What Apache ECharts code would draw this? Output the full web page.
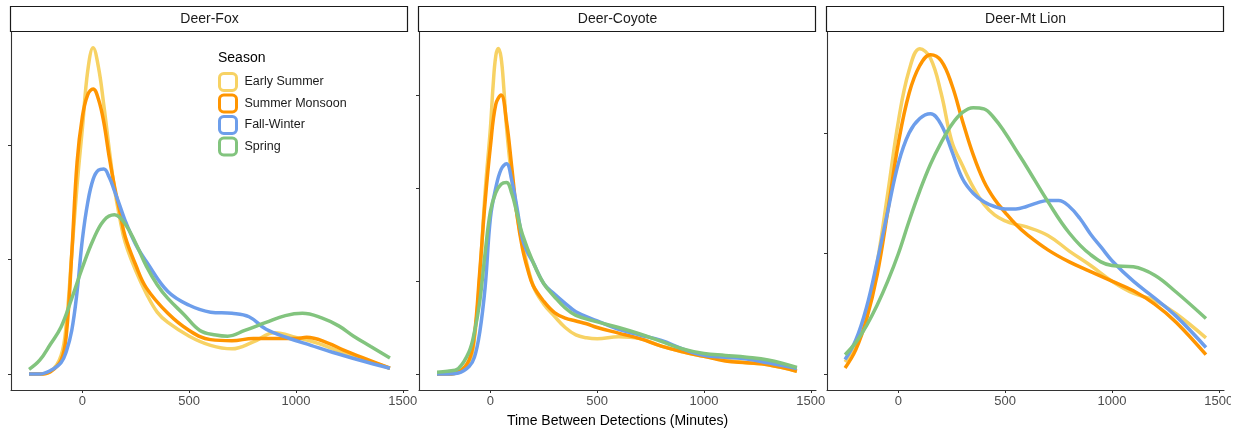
<!DOCTYPE html>
<html>
<head>
<meta charset="utf-8">
<script src="https://cdn.jsdelivr.net/npm/echarts@6/dist/echarts.min.js"></script>
<style>
html,body{margin:0;padding:0;background:#fff;}
#chart{width:1231px;height:433px;}
</style>
</head>
<body>
<div id="chart"></div>
<script>
// ---------- data (x = minutes, y = density in relative units) ----------
const panels = ['Deer-Fox', 'Deer-Coyote', 'Deer-Mt Lion'];
const seasons = ['Early Summer', 'Summer Monsoon', 'Fall-Winter', 'Spring'];
const seasonColors = ['#F7D264', '#FF9500', '#6D9EEB', '#82C47E'];
const xTickValues = [0, 500, 1000, 1500];

const foxEarlySummer = [[-250,0.0],[-200,0.0],[-150,0.02],[-100,0.16],[-75,0.45],[-50,1.05],[-25,1.65],[0,2.15],[25,2.65],[50,2.85],[75,2.68],[100,2.35],[125,1.97],[150,1.62],[175,1.36],[200,1.15],[250,0.9],[300,0.7],[350,0.54],[400,0.45],[500,0.33],[600,0.25],[700,0.22],[800,0.28],[900,0.36],[1000,0.32],[1100,0.27],[1200,0.2],[1300,0.14],[1440,0.05]];
const foxSummerMonsoon = [[-250,0.0],[-200,0.0],[-150,0.02],[-100,0.12],[-75,0.35],[-50,1.05],[-25,1.85],[0,2.25],[25,2.44],[50,2.49],[75,2.4],[100,2.2],[125,1.9],[150,1.64],[175,1.42],[200,1.2],[250,0.95],[300,0.75],[400,0.53],[500,0.38],[600,0.3],[700,0.29],[800,0.31],[900,0.31],[1000,0.31],[1050,0.32],[1150,0.27],[1220,0.21],[1330,0.13],[1440,0.05]];
const foxFallWinter = [[-250,0.0],[-200,0.0],[-150,0.03],[-100,0.1],[-75,0.2],[-50,0.38],[-25,0.72],[0,1.18],[25,1.5],[50,1.7],[75,1.78],[100,1.79],[125,1.72],[150,1.6],[175,1.47],[200,1.34],[250,1.13],[300,0.98],[400,0.72],[500,0.6],[600,0.54],[700,0.53],[780,0.5],[860,0.39],[970,0.31],[1070,0.25],[1170,0.19],[1300,0.12],[1440,0.05]];
const foxSpring = [[-250,0.04],[-200,0.12],[-150,0.26],[-100,0.41],[-50,0.66],[0,0.93],[50,1.17],[100,1.34],[150,1.39],[200,1.31],[250,1.14],[300,0.94],[350,0.78],[400,0.66],[475,0.52],[550,0.38],[625,0.34],[680,0.33],[760,0.38],[860,0.45],[950,0.51],[1030,0.53],[1120,0.49],[1200,0.42],[1270,0.33],[1350,0.24],[1440,0.14]];

const coyoteEarlySummer = [[-250,0.0],[-200,0.0],[-150,0.02],[-100,0.12],[-75,0.38],[-50,1.05],[-25,1.95],[0,2.65],[12.5,3.1],[25,3.42],[37.5,3.5],[50,3.4],[62.5,3.08],[75,2.66],[100,2.1],[125,1.7],[150,1.4],[200,0.95],[250,0.75],[300,0.62],[350,0.5],[400,0.42],[450,0.39],[500,0.38],[600,0.4],[700,0.38],[800,0.3],[900,0.24],[1000,0.19],[1100,0.15],[1200,0.12],[1300,0.1],[1435,0.03]];
const coyoteSummerMonsoon = [[-250,0.0],[-200,0.0],[-150,0.02],[-100,0.15],[-75,0.42],[-50,1.1],[-25,1.85],[0,2.45],[25,2.9],[50,3.0],[75,2.72],[100,2.22],[125,1.7],[150,1.35],[175,1.12],[200,0.95],[250,0.78],[300,0.66],[350,0.6],[400,0.57],[450,0.54],[500,0.5],[600,0.44],[700,0.38],[800,0.3],[900,0.24],[1000,0.19],[1100,0.14],[1200,0.12],[1300,0.1],[1435,0.03]];
const coyoteFallWinter = [[-250,0.0],[-200,0.0],[-150,0.01],[-100,0.08],[-75,0.18],[-50,0.45],[-25,0.93],[0,1.68],[25,2.0],[50,2.2],[75,2.26],[100,2.08],[125,1.78],[150,1.45],[175,1.3],[200,1.2],[250,0.97],[300,0.86],[350,0.76],[400,0.67],[500,0.57],[600,0.48],[700,0.42],[800,0.36],[900,0.27],[1000,0.2],[1100,0.18],[1200,0.16],[1300,0.12],[1435,0.06]];
const coyoteSpring = [[-250,0.02],[-200,0.03],[-150,0.06],[-100,0.24],[-75,0.45],[-50,0.78],[-25,1.3],[0,1.75],[25,1.95],[50,2.04],[75,2.06],[100,1.94],[125,1.72],[150,1.5],[200,1.2],[250,0.97],[300,0.83],[350,0.71],[400,0.63],[500,0.56],[600,0.5],[700,0.43],[800,0.35],[900,0.27],[1000,0.22],[1100,0.2],[1200,0.18],[1300,0.15],[1435,0.07]];

const lionEarlySummer = [[-250,0.1],[-200,0.25],[-150,0.5],[-100,0.92],[-50,1.5],[0,2.1],[50,2.52],[100,2.7],[150,2.62],[200,2.33],[250,1.93],[300,1.73],[350,1.55],[400,1.41],[450,1.32],[500,1.27],[550,1.24],[600,1.22],[700,1.15],[800,1.02],[900,0.9],[1000,0.77],[1100,0.67],[1200,0.61],[1300,0.5],[1440,0.3]];
const lionSummerMonsoon = [[-250,0.05],[-200,0.2],[-150,0.45],[-100,0.82],[-50,1.35],[0,1.92],[50,2.33],[100,2.56],[150,2.65],[200,2.6],[250,2.4],[300,2.1],[350,1.82],[400,1.6],[450,1.45],[500,1.34],[550,1.24],[600,1.16],[700,1.03],[800,0.93],[900,0.85],[1000,0.77],[1100,0.69],[1200,0.58],[1300,0.43],[1440,0.16]];
const lionFallWinter = [[-250,0.12],[-200,0.28],[-150,0.55],[-100,0.93],[-50,1.35],[0,1.75],[50,2.0],[100,2.12],[150,2.16],[200,2.07],[250,1.85],[300,1.62],[350,1.5],[400,1.43],[450,1.39],[500,1.37],[550,1.37],[600,1.39],[650,1.42],[700,1.44],[750,1.44],[800,1.39],[850,1.29],[900,1.16],[950,1.05],[1000,0.94],[1100,0.77],[1200,0.63],[1300,0.48],[1440,0.22]];
const lionSpring = [[-250,0.16],[-200,0.26],[-150,0.4],[-100,0.57],[-50,0.77],[0,1.0],[50,1.27],[100,1.52],[150,1.74],[200,1.92],[250,2.07],[300,2.17],[350,2.21],[400,2.2],[450,2.12],[500,2.0],[550,1.86],[600,1.72],[700,1.43],[800,1.17],[900,0.99],[1000,0.9],[1100,0.89],[1200,0.82],[1300,0.68],[1440,0.46]];

const panelSeries = [
  [foxEarlySummer, foxSummerMonsoon, foxFallWinter, foxSpring],
  [coyoteEarlySummer, coyoteSummerMonsoon, coyoteFallWinter, coyoteSpring],
  [lionEarlySummer, lionSummerMonsoon, lionFallWinter, lionSpring]
];
const yTicks = [[0,1,2],[0,1,2,3],[0,1,2]];
const yRanges = [[-0.14, 2.987],[-0.172, 3.677],[-0.133, 2.838]];

// ---------- layout ----------
const gridLeft = [11, 419, 827];
const gridW = 397, gridTop = 32, gridH = 358;
const axisColor = '#333333';
const font = 'Liberation Sans, Arial, sans-serif';

const grids = [], xAxes = [], yAxes = [], series = [], graphics = [];
for (let p = 0; p < 3; p++) {
  grids.push({left: gridLeft[p], top: gridTop, width: gridW, height: gridH, containLabel: false, outerBoundsMode: 'none'});
  xAxes.push({
    type: 'value', gridIndex: p, min: -334.5, max: 1524.5,
    axisLine: {show: true, onZero: false, lineStyle: {color: axisColor, width: 1.1}},
    axisTick: {show: true, length: 3, customValues: xTickValues, lineStyle: {color: axisColor}},
    axisLabel: {show: true, customValues: xTickValues, formatter: v => String(v), color: '#4D4D4D', fontSize: 13, fontFamily: font, margin: 5},
    splitLine: {show: false},
    name: p === 1 ? 'Time Between Detections (Minutes)' : '',
    nameLocation: 'middle', nameGap: 24,
    nameTextStyle: {color: '#000', fontSize: 14, fontFamily: font}
  });
  yAxes.push({
    type: 'value', gridIndex: p, min: yRanges[p][0], max: yRanges[p][1],
    axisLine: {show: true, onZero: false, lineStyle: {color: axisColor, width: 1.1}},
    axisTick: {show: true, length: 3, customValues: yTicks[p], lineStyle: {color: axisColor}},
    axisLabel: {show: false},
    splitLine: {show: false}
  });
  for (let s = 0; s < 4; s++) {
    series.push({
      type: 'line', name: seasons[s], xAxisIndex: p, yAxisIndex: p,
      data: panelSeries[p][s], smooth: 0.4, showSymbol: false, symbol: 'none',
      lineStyle: {color: seasonColors[s], width: 3.5},
      itemStyle: {color: seasonColors[s]},
      z: 2 + s, silent: true, animation: false
    });
  }
  // strip (facet label)
  graphics.push({type: 'rect', shape: {x: gridLeft[p] - 0.5, y: 6.5, width: gridW, height: 25},
    style: {fill: '#fff', stroke: '#1a1a1a', lineWidth: 1.2}, z: 10});
  graphics.push({type: 'text', x: gridLeft[p] + gridW / 2, y: 19,
    style: {text: panels[p], fill: '#1a1a1a', font: '14px ' + font, align: 'center', verticalAlign: 'middle'}, z: 11});
}
graphics.push({type: 'text', x: 218, y: 58,
  style: {text: 'Season', fill: '#000', font: '14px ' + font, align: 'left', verticalAlign: 'middle'}, z: 11});

const option = {
  animation: false,
  backgroundColor: '#fff',
  grid: grids, xAxis: xAxes, yAxis: yAxes, series: series,
  legend: {
    orient: 'vertical', left: 218, top: 72, padding: 0,
    itemWidth: 17, itemHeight: 17, itemGap: 1.5,
    icon: 'roundRect',
    data: seasons.map((n, i) => ({name: n, itemStyle: {color: '#fff', borderColor: seasonColors[i], borderWidth: 3}})),
    textStyle: {color: '#1a1a1a', fontSize: 12.5, fontFamily: font, padding: [0, 0, 0, 3]},
    selectedMode: false
  },
  graphic: graphics
};
const chart = echarts.init(document.getElementById('chart'), null, {renderer: 'canvas'});
chart.setOption(option);
</script>
</body>
</html>
